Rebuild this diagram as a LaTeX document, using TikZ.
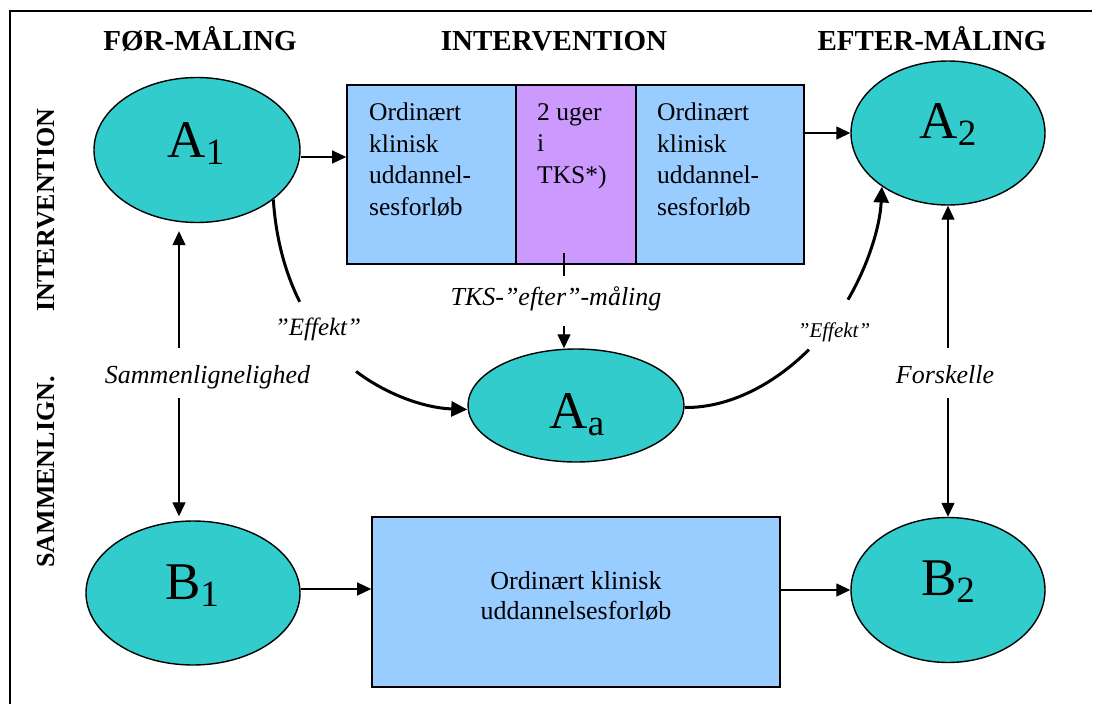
\documentclass[tikz,border=0pt]{standalone}
\usepackage{fontspec}
\setmainfont{Liberation Serif}
\usetikzlibrary{arrows.meta,shapes.geometric}
\definecolor{ovalc}{HTML}{33CCCC}
\definecolor{boxblue}{HTML}{99CCFF}
\definecolor{boxpurple}{HTML}{CC99FF}
\begin{document}
\begin{tikzpicture}[x=1pt,y=-1pt,
  oval/.style={ellipse,draw,line width=1.4pt,fill=ovalc,inner sep=0pt},
  boxnode/.style={rectangle,draw,line width=1.6pt,inner sep=0pt},
  heading/.style={font=\bfseries\fontsize{29pt}{29pt}\selectfont,inner sep=0pt},
  sidehead/.style={font=\bfseries\fontsize{26pt}{26pt}\selectfont,inner sep=0pt,rotate=90},
  bigletter/.style={font=\fontsize{53pt}{53pt}\selectfont,inner sep=0pt,anchor=base},
  boxtext/.style={font=\fontsize{25.5pt}{31.5pt}\selectfont,inner sep=0pt,align=left,anchor=north west},
  lab/.style={font=\itshape\fontsize{26pt}{26pt}\selectfont,inner sep=0pt,anchor=base},
  smalllab/.style={font=\itshape\fontsize{21pt}{21pt}\selectfont,inner sep=0pt,anchor=base},
  arr/.style={line width=1.3pt,-{Triangle[length=14pt,width=13pt]}},
  curvearr/.style={line width=3pt,-{Triangle[length=16pt,width=15pt]}},
  plain/.style={line width=1.3pt}
]
\useasboundingbox (0,0) rectangle (1104,704);
% frame
\coordinate (fbl) at (10,704);
\coordinate (ftl) at (10,11);
\coordinate (ftr) at (1092,11);
\draw[line width=2pt] (fbl) -- (ftl) -- (ftr);

% headings
\node[heading,anchor=base] (h1) at (200,50) {FØR-MÅLING};
\node[heading,anchor=base] (h2) at (554,50) {INTERVENTION};
\node[heading,anchor=base] (h3) at (932,50) {EFTER-MÅLING};
\node[sidehead] (s1) at (46,210) {INTERVENTION};
\node[sidehead] (s2) at (46,472) {SAMMENLIGN.};

% ovals
\node[oval,minimum width=206pt,minimum height=145pt] (A1) at (197,150) {};
\node[oval,minimum width=194pt,minimum height=144pt] (A2) at (948,133) {};
\node[oval,minimum width=216pt,minimum height=113pt] (Aa) at (576,405.5) {};
\node[oval,minimum width=214pt,minimum height=144pt] (B1) at (193,593) {};
\node[oval,minimum width=194pt,minimum height=145pt] (B2) at (948,590) {};

\newcommand\subtxt[1]{\raisebox{-7pt}{\fontsize{37pt}{37pt}\selectfont #1}}
\node[bigletter] (A1t) at (196,157) {A\subtxt{1}};
\node[bigletter] (A2t) at (948,138) {A\subtxt{2}};
\node[bigletter] (Aat) at (577,428) {A\subtxt{a}};
\node[bigletter] (B1t) at (192,599) {B\subtxt{1}};
\node[bigletter] (B2t) at (948,595) {B\subtxt{2}};

% intervention boxes
\node[boxnode,fill=boxblue,minimum width=169pt,minimum height=179pt] (L) at (431.5,174.5) {};
\node[boxnode,fill=boxpurple,minimum width=120pt,minimum height=179pt] (C) at (576,174.5) {};
\node[boxnode,fill=boxblue,minimum width=168pt,minimum height=179pt] (R) at (720,174.5) {};
\node[boxtext] (Lt) at (369,103) {Ordinært\\klinisk\\uddannel-\\sesforløb};
\node[boxtext] (Ct) at (537,103) {2 uger\\i\\TKS*)};
\node[boxtext] (Rt) at (657,103) {Ordinært\\klinisk\\uddannel-\\sesforløb};

% comparison box
\node[boxnode,fill=boxblue,minimum width=408pt,minimum height=170pt] (M) at (576,602) {};
\node[font=\fontsize{26pt}{30pt}\selectfont,align=center,inner sep=0pt] (Mt) at (576,596)
      {Ordinært klinisk\\uddannelsesforløb};

% horizontal arrows
\draw[arr] ([yshift=-7pt]A1.east) -- ([yshift=-7pt]A1.east -| L.west);
\draw[arr] (R.east |- A2.west) -- (A2.west);
\draw[arr] ([yshift=4pt]B1.east) -- ([yshift=4pt]B1.east -| M.west);
\draw[arr] (M.east |- B2.west) -- (B2.west);

% Sammenlignelighed
\node[lab] (sam) at (207.5,383) {Sammenlignelighed};
\coordinate (sl1) at (179,348);
\coordinate (sl2) at (179,398);
\draw[arr,shorten >=8pt] (sl1) -- (sl1 |- A1.south);
\draw[arr,shorten >=4pt] (sl2) -- (sl2 |- B1.north);

% Forskelle
\node[lab] (fors) at (945,383) {Forskelle};
\coordinate (fr1) at (948,348);
\coordinate (fr2) at (948,398);
\draw[arr] (fr1) -- (A2.south);
\draw[arr] (fr2) -- (B2.north);

% TKS-efter-maaling
\node[lab] (tks) at (556,305) {TKS-”efter”-måling};
\coordinate (t1) at (564,253);
\coordinate (t2) at (564,276);
\coordinate (t3) at (564,326);
\draw[plain] (t1) -- (t2);
\draw[arr] (t3) -- (t3 |- Aa.north);

% Effekt curves
\node[lab,font=\itshape\fontsize{25pt}{25pt}\selectfont] (eff1) at (318,335) {”Effekt”};
\coordinate (e1a) at (299.7,301.8);
\coordinate (e1b) at (356.1,371.4);
\draw[line width=3pt] (A1.-33.7) .. controls (275.9,239) and (285.4,273.1) .. (e1a);
\draw[curvearr] (e1b) .. controls (386.9,394.8) and (424.8,408) .. ([yshift=-4pt]Aa.west);

\node[smalllab] (eff2) at (834,337) {”Effekt”};
\coordinate (e2a) at (808.9,349.6);
\coordinate (e2b) at (847.95,299.67);
\draw[line width=3pt] ([yshift=-2pt]Aa.east) .. controls (728.2,408) and (773.2,385.2) .. (e2a);
\draw[curvearr] (e2b) .. controls (867.75,265.91) and (880,227.2) .. (A2.219);
\end{tikzpicture}
\end{document}
